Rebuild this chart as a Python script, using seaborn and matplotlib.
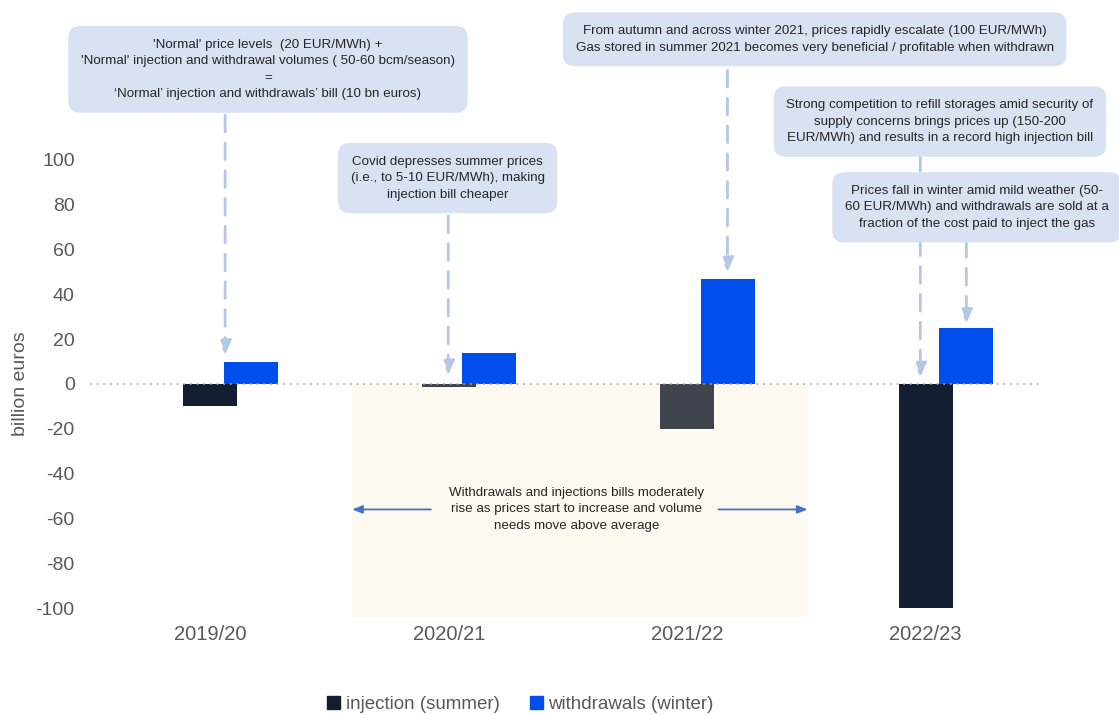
import matplotlib
matplotlib.use("Agg")
import matplotlib.pyplot as plt
import seaborn as sns
import pandas as pd

seasons = ["2019/20", "2020/21", "2021/22", "2022/23"]
injection = [-10, -1.5, -20, -100]
withdrawals = [10, 14, 47, 25]
series_names = ["injection (summer)", "withdrawals (winter)"]
inj_colors = ["#131e33", "#40454d", "#40454d", "#131e33"]
wd_color = "#004fec"

df = pd.DataFrame({
    "season": seasons * 2,
    "value": injection + withdrawals,
    "series": [series_names[0]] * 4 + [series_names[1]] * 4,
})

sns.set_theme(style="white")
plt.rcParams["font.family"] = ["Liberation Sans", "DejaVu Sans"]
plt.rcParams["axes.unicode_minus"] = False

fig = plt.figure(figsize=(11.19, 7.15), dpi=100)
ax = fig.add_axes([0.0804, 0.1371, 0.849, 0.6517])

# shaded period 2020/21 - 2021/22
ax.axvspan(0.51, 2.42, ymin=0, ymax=0.5, color="#fdf9f0", zorder=0, lw=0)

sns.barplot(data=df, x="season", y="value", hue="series", order=seasons,
            hue_order=series_names, palette=["#131e33", wd_color], saturation=1,
            width=0.34, dodge=True, ax=ax, zorder=2, linewidth=0)

# widen bars slightly (they overlap a bit in the original)
for cont in ax.containers:
    for bar in cont:
        c = bar.get_x() + bar.get_width() / 2
        bar.set_width(0.227)
        bar.set_x(c - 0.1135)
for bar, col in zip(ax.containers[0], inj_colors):
    bar.set_facecolor(col)

ax.axhline(0, ls=(0, (1, 3)), color="#a6a6a6", lw=1.2, zorder=3)

ax.set_xlim(-0.59, 3.395)
ax.set_ylim(-104, 104)
ax.set_yticks(range(-100, 101, 20))
ax.set_xticks([i - 0.085 for i in range(4)])
ax.set_xticklabels(seasons)
ax.tick_params(axis="x", labelsize=14.5, colors="#595959", length=0, pad=6)
ax.tick_params(axis="y", labelsize=14, colors="#595959", length=0, pad=11)
ax.set_xlabel("")
ax.set_ylabel("billion euros", fontsize=14, color="#595959")
ax.yaxis.set_label_coords(-0.064, 0.5)
for s in ax.spines.values():
    s.set_visible(False)

ax.get_legend().remove()
handles = [plt.Rectangle((0, 0), 1, 1, color="#131e33"),
           plt.Rectangle((0, 0), 1, 1, color=wd_color)]
leg = fig.legend(handles, series_names, loc="center", bbox_to_anchor=(0.465, 0.015),
                 ncol=2, frameon=False, fontsize=13.5, handlelength=0.7,
                 handleheight=0.7, handletextpad=0.3, columnspacing=1.6)
for t in leg.get_texts():
    t.set_color("#595959")

box = dict(boxstyle="round,pad=0.95,rounding_size=0.9", fc="#d9e2f3", ec="none")
txt_kw = dict(ha="center", va="center", fontsize=9.6, color="#262626",
              linespacing=1.5, bbox=box, zorder=6)

# dashed arrows from the boxes to the bars
arrow_kw = dict(arrowstyle="-|>,head_length=0.7,head_width=0.3", color="#b4c7e7",
                lw=2, linestyle=(0, (6, 4)), shrinkA=0, shrinkB=0)
for x, y0, y1 in [(-0.023, 120, 13), (0.913, 75, 4), (2.084, 140, 50),
                  (2.893, 102, 3), (3.086, 64, 27)]:
    ax.annotate("", xy=(x, y1), xytext=(x, y0), arrowprops=arrow_kw,
                annotation_clip=False, zorder=1)

fig.text(0.2395, 0.903,
         "'Normal' price levels  (20 EUR/MWh) +\n"
         "'Normal' injection and withdrawal volumes ( 50-60 bcm/season)\n"
         "=\n"
         "\u2018Normal\u2019 injection and withdrawals\u2019 bill (10 bn euros)", **txt_kw)
fig.text(0.400, 0.751,
         "Covid depresses summer prices\n(i.e., to 5-10 EUR/MWh), making\ninjection bill cheaper",
         **txt_kw)
fig.text(0.728, 0.945,
         "From autumn and across winter 2021, prices rapidly escalate (100 EUR/MWh)\n"
         "Gas stored in summer 2021 becomes very beneficial / profitable when withdrawn",
         **txt_kw)
fig.text(0.840, 0.830,
         "Strong competition to refill storages amid security of\n"
         "supply concerns brings prices up (150-200\n"
         "EUR/MWh) and results in a record high injection bill", **txt_kw)
fig.text(0.873, 0.710,
         "Prices fall in winter amid mild weather (50-\n"
         "60 EUR/MWh) and withdrawals are sold at a\n"
         "fraction of the cost paid to inject the gas", **txt_kw)

# note inside shaded area with double arrows
ax.text(1.45, -56, "Withdrawals and injections bills moderately\n"
        "rise as prices start to increase and volume\nneeds move above average",
        ha="center", va="center", fontsize=9.6, color="#262626", linespacing=1.5, zorder=5)
side_kw = dict(arrowstyle="-|>,head_length=0.5,head_width=0.2", color="#4472c4", lw=1.3,
               shrinkA=0, shrinkB=0)
ax.annotate("", xy=(0.51, -56), xytext=(0.84, -56), arrowprops=side_kw)
ax.annotate("", xy=(2.42, -56), xytext=(2.046, -56), arrowprops=side_kw)

fig.savefig("out.png", dpi=100)
